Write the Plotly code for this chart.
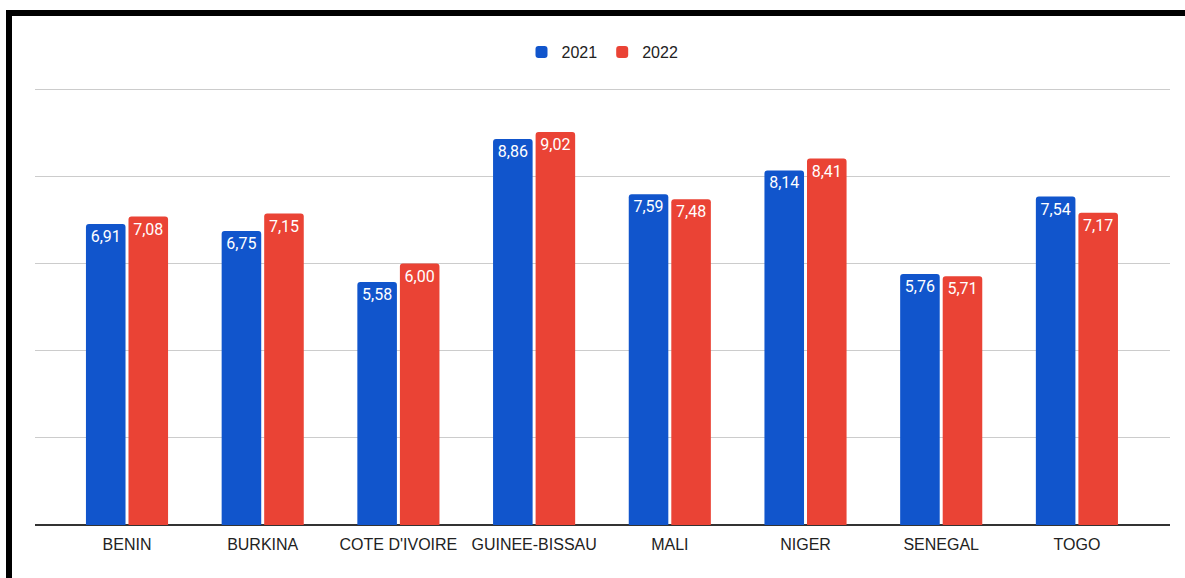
import plotly.graph_objects as go

countries = ["BENIN", "BURKINA", "COTE D'IVOIRE", "GUINEE-BISSAU", "MALI", "NIGER", "SENEGAL", "TOGO"]
values_2021 = [6.91, 6.75, 5.58, 8.86, 7.59, 8.14, 5.76, 7.54]
values_2022 = [7.08, 7.15, 6.00, 9.02, 7.48, 8.41, 5.71, 7.17]

W, H = 1185, 578
L, R, T, B = 35, 15, 85, 53
pw, ph = W - L - R, H - T - B

def px_x(px):
    return (px - L) / pw

def px_y(py):
    return (H - B - py) / ph

fig = go.Figure()
for name, vals, col in [("2021", values_2021, "#1155CC"), ("2022", values_2022, "#EA4335")]:
    fig.add_trace(go.Bar(
        x=countries, y=vals, name=name, marker_color=col, marker_line_width=0,
        texttemplate="%{y:.2f}", textposition="inside", insidetextanchor="end",
        textangle=0,
        textfont=dict(family="Roboto", size=16, color="white"),
        cliponaxis=False,
    ))

fig.update_layout(
    width=W, height=H,
    margin=dict(l=L, r=R, t=T, b=B),
    paper_bgcolor="white", plot_bgcolor="white",
    separators=", ",
    barmode="group", bargap=0.373, bargroupgap=0.07,
    barcornerradius=3,
    uniformtext=dict(minsize=8, mode="show"),
    showlegend=True,
    legend=dict(orientation="h", x=0.5, xanchor="center", y=px_y(52), yanchor="middle",
                font=dict(family="Liberation Sans, Arial", size=16, color="#222222"),
                itemsizing="constant", traceorder="normal"),
    xaxis=dict(range=[-0.678, 7.686], showgrid=False, showline=False,
               ticks="", ticklabelstandoff=8,
               tickfont=dict(family="Liberation Sans, Arial", size=16, color="#222222"),
               fixedrange=True),
    yaxis=dict(range=[0, 10.1], tickvals=[2, 4, 6, 8, 10], showgrid=True, gridcolor="#CCCCCC", gridwidth=1,
               showticklabels=False, zeroline=True, zerolinecolor="#333333", zerolinewidth=2,
               fixedrange=True),
    shapes=[
        dict(type="line", xref="paper", yref="paper", x0=px_x(9), x1=px_x(9), y0=px_y(10), y1=px_y(H + 5),
             line=dict(color="black", width=6)),
        dict(type="line", xref="paper", yref="paper", x0=px_x(6), x1=px_x(W + 5), y0=px_y(13), y1=px_y(13),
             line=dict(color="black", width=6)),
    ],
)

fig.write_html("out.html", config={"displayModeBar": False},
               post_script="document.body.style.margin='0';document.body.style.overflow='hidden';")
